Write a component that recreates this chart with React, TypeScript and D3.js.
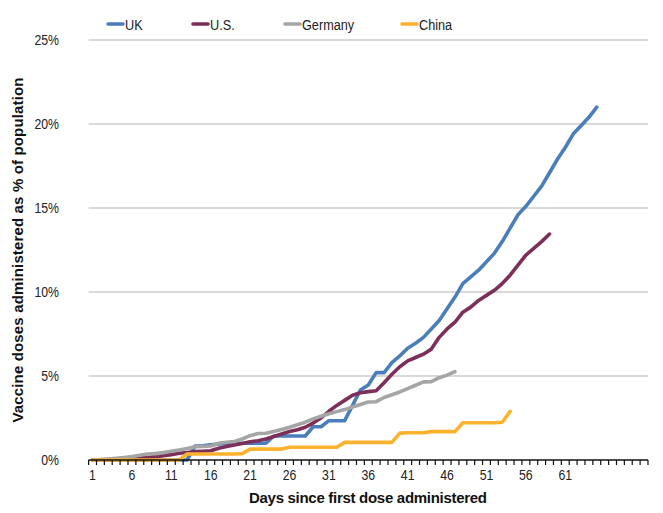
import React from 'react'
import * as d3 from "d3";

const days = d3.range(1, 72)

const seriesNames = ["UK", "U.S.", "Germany", "China"]
const seriesColors = ["#4a7ebb", "#7d2f5a", "#a5a5a5", "#fbb32f"]

// percent of population, day 1 onwards
const ukValues = [
  0, 0, 0, 0, 0, 0, 0, 0, 0, 0, 0, 0, 0, 0.83, 0.85, 0.9, 0.95, 0.97, 1.0, 1.0,
  1.0, 1.0, 1.0, 1.43, 1.43, 1.43, 1.43, 1.43, 1.98, 1.98, 2.34, 2.34, 2.34, 3.25, 4.17, 4.46, 5.2, 5.2, 5.8, 6.2,
  6.65, 6.95, 7.3, 7.8, 8.3, 9.0, 9.7, 10.5, 10.9, 11.3, 11.8, 12.3, 13.0, 13.8, 14.6, 15.1, 15.7, 16.3, 17.1, 17.9,
  18.6, 19.4, 19.9, 20.4, 21.0
]
const usValues = [
  0, 0.01, 0.02, 0.04, 0.06, 0.08, 0.11, 0.15, 0.2, 0.26, 0.32, 0.4, 0.45, 0.5, 0.52, 0.55, 0.7, 0.8, 0.9, 0.98,
  1.08, 1.15, 1.25, 1.4, 1.55, 1.7, 1.8, 1.95, 2.2, 2.5, 2.9, 3.25, 3.55, 3.85, 4.0, 4.07, 4.12, 4.6, 5.1, 5.55,
  5.9, 6.1, 6.3, 6.6, 7.3, 7.8, 8.2, 8.8, 9.1, 9.5, 9.8, 10.1, 10.5, 11.0, 11.6, 12.2, 12.6, 13.0, 13.45
]
const germanyValues = [
  0, 0.02, 0.05, 0.1, 0.15, 0.2, 0.28, 0.36, 0.38, 0.44, 0.52, 0.6, 0.68, 0.79, 0.8, 0.83, 1.0, 1.06, 1.1, 1.25,
  1.45, 1.58, 1.59, 1.7, 1.82, 1.95, 2.1, 2.25, 2.45, 2.6, 2.75, 2.88, 3.0, 3.15, 3.3, 3.45, 3.47, 3.72, 3.88, 4.05,
  4.25, 4.45, 4.65, 4.66, 4.9, 5.05, 5.26
]
const chinaValues = [
  0, 0, 0, 0, 0, 0, 0, 0, 0, 0, 0, 0, 0.36, 0.36, 0.36, 0.36, 0.36, 0.36, 0.36, 0.38,
  0.65, 0.65, 0.65, 0.65, 0.65, 0.76, 0.76, 0.76, 0.76, 0.76, 0.76, 0.76, 1.05, 1.05, 1.05, 1.05, 1.05, 1.05, 1.05, 1.6,
  1.62, 1.62, 1.62, 1.69, 1.69, 1.69, 1.69, 2.22, 2.22, 2.22, 2.22, 2.22, 2.25, 2.9
]

const yTicks = [0, 5, 10, 15, 20, 25]

// the original uses a narrow face; squeeze Liberation Sans to match
const squeeze = 0.82

function drawChart(svgRef: React.RefObject<SVGSVGElement>) {
  const width = 663
  const height = 513
  const font = "'Liberation Sans', Arial, sans-serif"

  const svg = d3.select(svgRef.current)
    .attr("width", width)
    .attr("height", height)
    .attr("font-family", font)

  svg.selectAll("*").remove()

  const x = d3.scaleBand<number>()
    .domain(days)
    .range([88.6, 648])
    .padding(0)

  const y = d3.scaleLinear()
    .domain([0, 25])
    .range([460, 40])

  const cx = (d: number) => x(d)! + x.bandwidth() / 2

  // gridlines
  svg.append("g")
    .selectAll("line")
    .data(yTicks.filter(t => t > 0))
    .join("line")
      .attr("x1", 88.6)
      .attr("x2", 648)
      .attr("y1", d => y(d))
      .attr("y2", d => y(d))
      .attr("stroke", "#b4b4b4")
      .attr("stroke-width", 1.2)

  // y tick labels
  svg.append("g")
    .selectAll("text")
    .data(yTicks)
    .join("text")
      .attr("transform", d => `translate(59,${y(d)}) scale(${squeeze},1)`)
      .attr("dy", "0.35em")
      .attr("text-anchor", "end")
      .attr("font-size", 15)
      .attr("fill", "#222")
      .text(d => `${d}%`)

  const series = [ukValues, usValues, germanyValues, chinaValues]

  const line = d3.line<number>()
    .x((_, i) => cx(days[i]))
    .y(d => y(d))

  // series order: later ones sit on top
  svg.append("g")
    .selectAll("path")
    .data(d3.range(series.length))
    .join("path")
      .attr("fill", "none")
      .attr("stroke", i => seriesColors[i])
      .attr("stroke-width", 3.6)
      .attr("stroke-linejoin", "round")
      .attr("stroke-linecap", "round")
      .attr("d", i => line(series[i]))

  // x axis
  const axis = svg.append("g")
  axis.append("line")
    .attr("x1", 88.6)
    .attr("x2", 648)
    .attr("y1", 460)
    .attr("y2", 460)
    .attr("stroke", "#111")
    .attr("stroke-width", 1.5)

  axis.selectAll("line.tick")
    .data([...days, 72])
    .join("line")
      .attr("class", "tick")
      .attr("x1", d => d === 72 ? 648 : x(d)!)
      .attr("x2", d => d === 72 ? 648 : x(d)!)
      .attr("y1", 460)
      .attr("y2", 465)
      .attr("stroke", "#111")
      .attr("stroke-width", 1.2)

  axis.selectAll("text")
    .data(days.filter(d => (d - 1) % 5 === 0 && d <= 61))
    .join("text")
      .attr("transform", d => `translate(${cx(d)},480) scale(${squeeze},1)`)
      .attr("text-anchor", "middle")
      .attr("font-size", 15)
      .attr("fill", "#222")
      .text(d => d)

  // axis titles
  svg.append("text")
    .attr("x", 368)
    .attr("y", 503)
    .attr("text-anchor", "middle")
    .attr("font-size", 15)
    .attr("font-weight", "bold")
    .attr("textLength", 238)
    .attr("fill", "#111")
    .text("Days since first dose administered")

  svg.append("text")
    .attr("transform", "translate(23,250) rotate(-90)")
    .attr("text-anchor", "middle")
    .attr("font-size", 15)
    .attr("font-weight", "bold")
    .attr("textLength", 345)
    .attr("fill", "#111")
    .text("Vaccine doses administered as % of population")

  // legend
  const legendX = [107, 192, 284, 401]
  const legend = svg.append("g")
    .selectAll("g")
    .data(seriesNames)
    .join("g")
      .attr("transform", (_, i) => `translate(${legendX[i]},24)`)

  legend.append("line")
    .attr("x1", 1)
    .attr("x2", 16)
    .attr("stroke", (_, i) => seriesColors[i])
    .attr("stroke-width", 3.6)
    .attr("stroke-linecap", "round")

  legend.append("text")
    .attr("transform", `translate(18,0) scale(${squeeze},1)`)
    .attr("dy", "0.36em")
    .attr("font-size", 15.5)
    .attr("fill", "#222")
    .text(d => d)

  return svg.node()
}

const App: React.FunctionComponent = () => {
  const svg = React.useRef<SVGSVGElement>(null)

  React.useEffect(() => {
    drawChart(svg)
  }, [svg])

  return (
    <div id="chart" style={{ position: "absolute", left: 0, top: 0 }}>
      <svg ref={svg} style={{ display: "block" }} />
    </div>
  )
}

export default App
